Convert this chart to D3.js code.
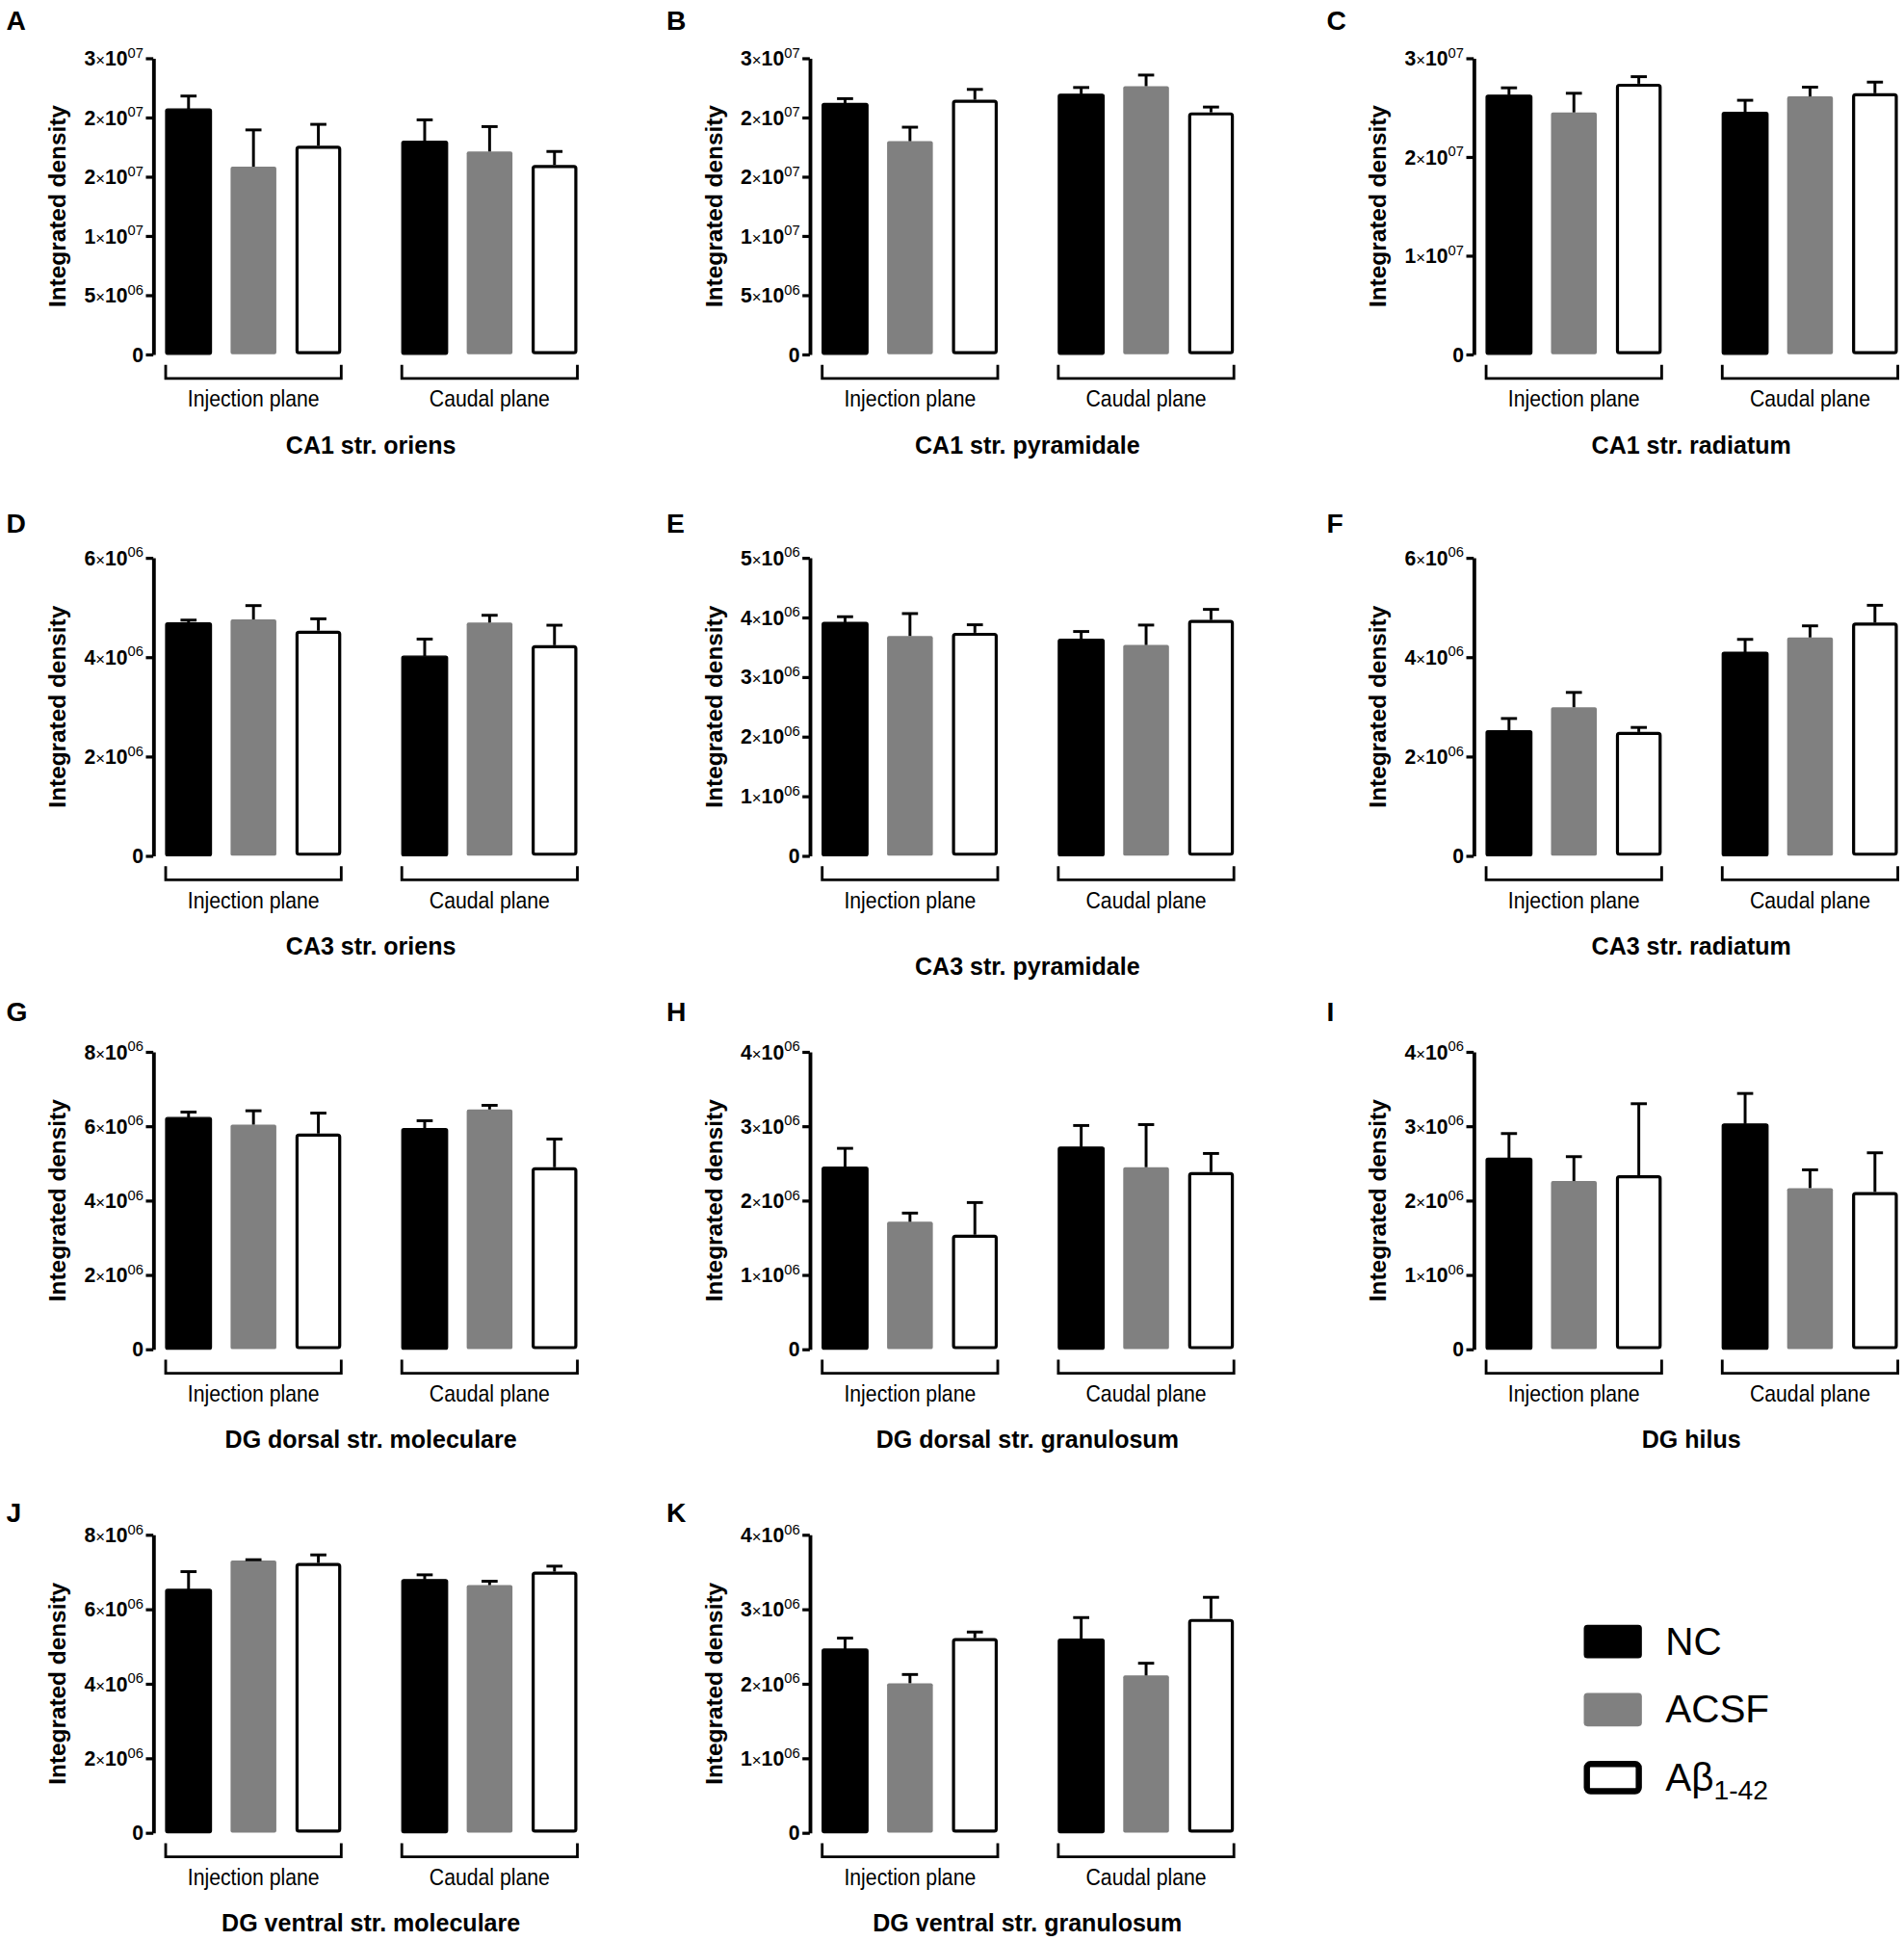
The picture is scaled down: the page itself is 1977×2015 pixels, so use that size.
<!DOCTYPE html>
<html>
<head>
<meta charset="utf-8">
<script src="https://cdn.jsdelivr.net/npm/d3@7"></script>
<style>
  body { margin: 0; background: #fff; }
  svg { display: block; }
</style>
</head>
<body>
<script>
// groups on the x axis and the three treatment series
var groups = ['Injection plane', 'Caudal plane'];
var series = ['NC', 'ACSF', 'Aβ'];
var seriesColors = ['#000000', '#808080', '#ffffff'];

var letters = ['A','B','C','D','E','F','G','H','I','J','K'];
var titles = ['CA1 str. oriens', 'CA1 str. pyramidale', 'CA1 str. radiatum',
  'CA3 str. oriens', 'CA3 str. pyramidale', 'CA3 str. radiatum',
  'DG dorsal str. moleculare', 'DG dorsal str. granulosum', 'DG hilus',
  'DG ventral str. moleculare', 'DG ventral str. granulosum'];

// means: injection NC, ACSF, Ab, then caudal NC, ACSF, Ab
var meanA = [2.07e7, 1.584e7, 1.761e7, 1.799e7, 1.712e7, 1.598e7];
var semA  = [1.1e6, 3.1e6, 1.8e6, 1.8e6, 2.1e6, 1.14e6];
var meanB = [2.117e7, 1.799e7, 2.149e7, 2.195e7, 2.263e7, 2.042e7];
var semB  = [4.1e5, 1.18e6, 8.7e5, 5.7e5, 9.4e5, 4.5e5];
var meanC = [2.625e7, 2.45e7, 2.741e7, 2.45e7, 2.612e7, 2.644e7];
var semC  = [7.4e5, 1.94e6, 7.1e5, 1.23e6, 9.4e5, 1.13e6];
var meanD = [4.686e6, 4.757e6, 4.531e6, 4.019e6, 4.693e6, 4.239e6];
var semD  = [5.8e4, 2.79e5, 2.39e5, 3.43e5, 1.48e5, 4.02e5];
var meanE = [3.913e6, 3.687e6, 3.741e6, 3.633e6, 3.536e6, 3.956e6];
var semE  = [9.7e4, 3.76e5, 1.34e5, 1.29e5, 3.34e5, 1.77e5];
var meanF = [2.518e6, 2.99e6, 2.492e6, 4.097e6, 4.395e6, 4.693e6];
var semF  = [2.45e5, 2.98e5, 9.1e4, 2.59e5, 2.33e5, 3.49e5];
var meanG = [6.23e6, 6.04e6, 5.80e6, 5.93e6, 6.447e6, 4.893e6];
var semG  = [1.48e5, 3.72e5, 5.5e5, 2.15e5, 1.12e5, 7.59e5];
var meanH = [2.447e6, 1.713e6, 1.54e6, 2.718e6, 2.447e6, 2.382e6];
var semH  = [2.54e5, 1.17e5, 4.32e5, 2.9e5, 5.73e5, 2.5e5];
var meanI = [2.567e6, 2.261e6, 2.339e6, 3.029e6, 2.166e6, 2.114e6];
var semI  = [3.33e5, 3.28e5, 9.62e5, 4.1e5, 2.46e5, 5.27e5];
var meanJ = [6.532e6, 7.309e6, 7.24e6, 6.792e6, 6.645e6, 7.007e6];
var semJ  = [4.75e5, 1.8e4, 2.16e5, 1.29e5, 1.04e5, 1.47e5];
var meanK = [2.464e6, 2.006e6, 2.611e6, 2.598e6, 2.11e6, 2.869e6];
var semK  = [1.47e5, 1.17e5, 8.2e4, 2.89e5, 1.64e5, 2.9e5];

// y axis tick values and the labels as printed
var ticks25e6 = [0, 5e6, 1e7, 1.5e7, 2e7, 2.5e7];
var labels25e6 = ['0', '5x10^06', '1x10^07', '2x10^07', '2x10^07', '3x10^07'];
var ticks3e7 = [0, 1e7, 2e7, 3e7];
var labels3e7 = ['0', '1x10^07', '2x10^07', '3x10^07'];
var ticks6e6 = [0, 2e6, 4e6, 6e6];
var labels6e6 = ['0', '2x10^06', '4x10^06', '6x10^06'];
var ticks5e6 = [0, 1e6, 2e6, 3e6, 4e6, 5e6];
var labels5e6 = ['0', '1x10^06', '2x10^06', '3x10^06', '4x10^06', '5x10^06'];
var ticks8e6 = [0, 2e6, 4e6, 6e6, 8e6];
var labels8e6 = ['0', '2x10^06', '4x10^06', '6x10^06', '8x10^06'];
var ticks4e6 = [0, 1e6, 2e6, 3e6, 4e6];
var labels4e6 = ['0', '1x10^06', '2x10^06', '3x10^06', '4x10^06'];

var W = 1540, H = 1569.6;
var colAxis = [124, 655, 1192];
var colLetter = [5, 539, 1073];
var rowTop = [47, 451, 850.5, 1241];
var rowZero = [286.5, 692, 1091, 1482];
var rowLetter = [24, 431, 826, 1231];
var plotW = 343;
var fontMain = '"Liberation Sans", Arial, sans-serif';

var panels = [
  {mean: meanA, sem: semA, max: 2.5e7, ticks: ticks25e6, labels: labels25e6},
  {mean: meanB, sem: semB, max: 2.5e7, ticks: ticks25e6, labels: labels25e6},
  {mean: meanC, sem: semC, max: 3e7, ticks: ticks3e7, labels: labels3e7},
  {mean: meanD, sem: semD, max: 6e6, ticks: ticks6e6, labels: labels6e6},
  {mean: meanE, sem: semE, max: 5e6, ticks: ticks5e6, labels: labels5e6, titleDy: 96},
  {mean: meanF, sem: semF, max: 6e6, ticks: ticks6e6, labels: labels6e6},
  {mean: meanG, sem: semG, max: 8e6, ticks: ticks8e6, labels: labels8e6},
  {mean: meanH, sem: semH, max: 4e6, ticks: ticks4e6, labels: labels4e6},
  {mean: meanI, sem: semI, max: 4e6, ticks: ticks4e6, labels: labels4e6},
  {mean: meanJ, sem: semJ, max: 8e6, ticks: ticks8e6, labels: labels8e6},
  {mean: meanK, sem: semK, max: 4e6, ticks: ticks4e6, labels: labels4e6}
];

var svg = d3.select('body').append('svg')
  .attr('width', 1977)
  .attr('height', 2015)
  .attr('viewBox', '0 0 ' + W + ' ' + H);

svg.append('rect').attr('width', W).attr('height', H).attr('fill', '#fff');

var x0 = d3.scaleBand().domain(groups).range([10, plotW]).paddingInner(0.2565);
var x1 = d3.scaleBand().domain(series).range([0, x0.bandwidth()]).paddingInner(0.295);

panels.forEach(function(p, i) {
  var col = i % 3, row = Math.floor(i / 3);
  var ax = colAxis[col];
  var top = rowTop[row], zero = rowZero[row];

  var y = d3.scaleLinear().domain([0, p.max]).range([zero, top]);

  var bars = [];
  groups.forEach(function(g, gi) {
    series.forEach(function(s, si) {
      bars.push({group: g, series: s, si: si, mean: p.mean[gi * 3 + si], sem: p.sem[gi * 3 + si]});
    });
  });

  // panel letter
  svg.append('text')
    .attr('x', colLetter[col])
    .attr('y', rowLetter[row])
    .attr('font-family', fontMain)
    .attr('font-weight', 'bold')
    .attr('font-size', 22)
    .text(letters[i]);

  var g = svg.append('g').attr('transform', 'translate(' + ax + ',0)');

  // bars
  g.selectAll('rect.bar')
    .data(bars)
    .enter()
    .append('rect')
    .attr('class', 'bar')
    .attr('x', function(d) { return x0(d.group) + x1(d.series) + (d.si == 2 ? 1.25 : 0); })
    .attr('y', function(d) { return y(d.mean) + (d.si == 2 ? 1.25 : 0); })
    .attr('width', function(d) { return x1.bandwidth() - (d.si == 2 ? 2.5 : 0); })
    .attr('height', function(d) { return zero - y(d.mean) - (d.si == 2 ? 2.5 : 0); })
    .attr('rx', 1.5)
    .attr('fill', function(d) { return seriesColors[d.si]; })
    .attr('stroke', function(d) { return d.si == 1 ? 'none' : '#000'; })
    .attr('stroke-width', function(d) { return d.si == 2 ? 2.5 : 1; });

  // error bars (upper only)
  var eb = g.selectAll('g.err')
    .data(bars)
    .enter()
    .append('g')
    .attr('class', 'err')
    .attr('stroke', '#000')
    .attr('stroke-width', 2.3);

  eb.append('line')
    .attr('x1', function(d) { return x0(d.group) + x1(d.series) + x1.bandwidth() / 2; })
    .attr('x2', function(d) { return x0(d.group) + x1(d.series) + x1.bandwidth() / 2; })
    .attr('y1', function(d) { return y(d.mean); })
    .attr('y2', function(d) { return y(d.mean + d.sem); });

  eb.append('line')
    .attr('x1', function(d) { return x0(d.group) + x1(d.series) + x1.bandwidth() / 2 - 6.5; })
    .attr('x2', function(d) { return x0(d.group) + x1(d.series) + x1.bandwidth() / 2 + 6.5; })
    .attr('y1', function(d) { return y(d.mean + d.sem); })
    .attr('y2', function(d) { return y(d.mean + d.sem); });

  // y axis
  var axis = g.append('g')
    .call(d3.axisLeft(y).tickValues(p.ticks).tickSize(6).tickSizeOuter(0).tickFormat(''));
  axis.select('.domain').attr('stroke', '#000').attr('stroke-width', 3);
  axis.selectAll('.tick line').attr('stroke', '#000').attr('stroke-width', 2.5);

  // tick labels like 3x10^07
  p.ticks.forEach(function(t, ti) {
    var lab = p.labels[ti];
    var txt = g.append('text')
      .attr('x', -8)
      .attr('y', y(t) + 6)
      .attr('text-anchor', 'end')
      .attr('font-family', fontMain)
      .attr('font-weight', 'bold')
      .attr('font-size', 16.5);
    if (lab == '0') {
      txt.text('0');
    } else {
      var parts = lab.split('x10^');
      txt.append('tspan').text(parts[0]);
      txt.append('tspan').attr('font-weight', 'normal').attr('font-size', 13).text('×');
      txt.append('tspan').text('10');
      txt.append('tspan').attr('font-weight', 'normal').attr('font-size', 11.5).attr('dy', -6.5).text(parts[1]);
    }
  });

  // y axis title
  g.append('text')
    .attr('transform', 'translate(' + (-71) + ',' + ((top + zero) / 2) + ') rotate(-90)')
    .attr('text-anchor', 'middle')
    .attr('font-family', fontMain)
    .attr('font-weight', 'bold')
    .attr('font-size', 19)
    .text('Integrated density');

  // group brackets and labels
  groups.forEach(function(gr) {
    var a = x0(gr), b = x0(gr) + x0.bandwidth();
    g.append('path')
      .attr('d', 'M' + a + ',' + (zero + 8.5) + 'V' + (zero + 19.5) + 'H' + b + 'V' + (zero + 8.5))
      .attr('fill', 'none')
      .attr('stroke', '#000')
      .attr('stroke-width', 2.2);
    // condensed look of the original labels
    g.append('text')
      .attr('transform', 'translate(' + ((a + b) / 2) + ',' + (zero + 42.5) + ') scale(0.87,1)')
      .attr('text-anchor', 'middle')
      .attr('font-family', fontMain)
      .attr('font-size', 19)
      .text(gr);
  });

  // panel title
  g.append('text')
    .attr('x', 176)
    .attr('y', zero + (p.titleDy || 80))
    .attr('text-anchor', 'middle')
    .attr('font-family', fontMain)
    .attr('font-weight', 'bold')
    .attr('font-size', 19.5)
    .text(titles[i]);
});

// legend
var legend = svg.append('g').attr('transform', 'translate(1281,1314)');
series.forEach(function(s, si) {
  var row = legend.append('g').attr('transform', 'translate(0,' + (si * 55) + ')');
  row.append('rect')
    .attr('x', si == 2 ? 2.5 : 0)
    .attr('y', si == 2 ? 2.5 : 0)
    .attr('width', si == 2 ? 42 : 47)
    .attr('height', si == 2 ? 22 : 27)
    .attr('rx', 3)
    .attr('fill', seriesColors[si])
    .attr('stroke', si == 2 ? '#000' : 'none')
    .attr('stroke-width', 5);
  var t = row.append('text')
    .attr('x', 66)
    .attr('y', 24)
    .attr('font-family', fontMain)
    .attr('font-size', 31.5)
    .text(s);
  if (si == 2) {
    t.append('tspan').attr('font-size', 22).attr('dy', 7).text('1-42');
  }
});
</script>
</body>
</html>
